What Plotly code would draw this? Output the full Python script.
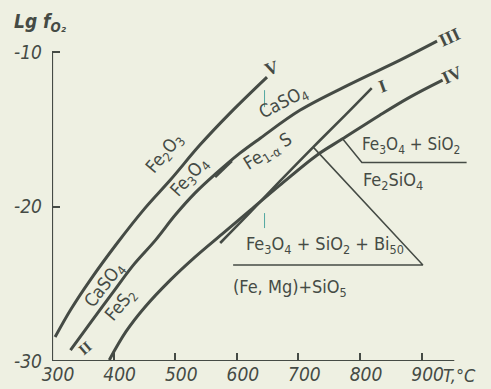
import plotly.graph_objects as go

# ---- data (T in deg C, lg fO2) ----
# curve V (Fe2O3 / Fe3O4 boundary)
T_V = [305, 330, 362, 406, 451, 492, 540, 589, 649]
LG_V = [-28.45, -26.70, -24.76, -22.36, -20.10, -18.28, -16.02, -13.95, -11.62]
# curve III
T_III = [330, 362, 398, 432, 468, 500, 532, 565, 605, 638, 703, 784, 865, 925]
LG_III = [-29.29, -27.54, -25.60, -23.79, -22.17, -20.55, -19.13, -17.90, -16.54, -15.57, -13.75, -12.07, -10.52, -9.29]
# curve II -> IV (FeS2 / Fe1-aS then IV)
T_IV = [393, 420, 451, 492, 532, 576, 622, 670, 730, 771, 832, 881, 934]
LG_IV = [-29.93, -28.10, -26.50, -24.76, -23.27, -21.78, -20.23, -18.61, -16.67, -15.63, -14.08, -12.91, -11.81]
# curve I
T_I = [573, 622, 670, 724, 776, 819]
LG_I = [-22.36, -20.36, -18.35, -16.15, -14.08, -12.33]
# short branch stroke on curve III
T_BR = [565, 592]
LG_BR = [-18.10, -17.05]
# Fe3O4+SiO2+Bi50 / (Fe,Mg)+SiO5 triangle
T_TRI = [724, 902, 594]
LG_TRI = [-16.15, -23.79, -23.79]
# Fe3O4+SiO2 / Fe2SiO4 boundary
T_QF = [771, 803, 973]
LG_QF = [-15.57, -17.15, -17.15]

X_TICKS = [300, 400, 500, 600, 700, 800, 900]
Y_TICKS = [-10, -20, -30]

INK = "#454b45"
BG = "#eef0e2"
FONT = "DejaVu Sans Condensed, DejaVu Sans, sans-serif"
ROMAN = "Liberation Serif, DejaVu Serif, serif"

fig = go.Figure()

def curve(tx, ty, w):
    fig.add_trace(go.Scatter(x=tx, y=ty, mode="lines",
                             line=dict(color=INK, width=w, shape="spline", smoothing=1.0),
                             hoverinfo="skip", showlegend=False))

curve(T_V, LG_V, 3)
curve(T_III, LG_III, 3)
curve(T_IV, LG_IV, 3)
curve(T_I, LG_I, 2.6)
curve(T_BR, LG_BR, 2.4)
fig.add_trace(go.Scatter(x=T_TRI, y=LG_TRI, mode="lines", line=dict(color=INK, width=1.5),
                         hoverinfo="skip", showlegend=False))
fig.add_trace(go.Scatter(x=T_QF, y=LG_QF, mode="lines", line=dict(color=INK, width=1.5),
                         hoverinfo="skip", showlegend=False))

# axes lines
fig.add_shape(type="line", x0=300, x1=300, y0=-30, y1=-10, line=dict(color=INK, width=2.2))
fig.add_shape(type="line", x0=300, x1=953, y0=-30, y1=-30, line=dict(color=INK, width=2.2))
# scan marks
for y0, y1 in [(-20.42, -21.39), (-12.46, -13.56)]:
    fig.add_shape(type="line", x0=645, x1=645, y0=y0, y1=y1, line=dict(color="#52a8a2", width=1))

def lab(x, y, text, ang=0, size=18, fam=FONT):
    fig.add_annotation(x=x, y=y, text=text, textangle=ang, showarrow=False,
                       font=dict(family=fam, size=size, color=INK), xref="x", yref="y")

lab(484, -16.54, "Fe<sub>2</sub>O<sub>3</sub>", -50)
lab(524, -18.09, "Fe<sub>3</sub>O<sub>4</sub>", -48)
lab(675, -13.30, "CaSO<sub>4</sub>", -27)
lab(651, -16.47, "Fe<sub>1-α</sub> S", -32)
lab(883, -16.02, "Fe<sub>3</sub>O<sub>4</sub> + SiO<sub>2</sub>", 0, 17)
lab(853, -18.35, "Fe<sub>2</sub>SiO<sub>4</sub>", 0)
lab(743, -22.49, "Fe<sub>3</sub>O<sub>4</sub> + SiO<sub>2</sub> + Bi<sub>50</sub>", 0)
lab(686, -25.27, "(Fe, Mg)+SiO<sub>5</sub>", 0)
lab(386, -25.08, "CaSO<sub>4</sub>", -52)
lab(412, -26.37, "FeS<sub>2</sub>", -50)
lab(657, -11.04, "<b>V</b>", -20, 18, ROMAN)
lab(946, -9.03, "<b>III</b>", -25, 18, ROMAN)
lab(837, -12.20, "<b>I</b>", -20, 18, ROMAN)
lab(949, -11.49, "<b>IV</b>", -25, 18, ROMAN)
lab(354, -29.16, "<b>II</b>", -40, 15, ROMAN)

fig.add_annotation(x=-0.028, y=1.021, xref="paper", yref="paper", xanchor="center", yanchor="middle",
                   text="<b><i>Lg f<sub>O₂</sub></i></b>",
                   showarrow=False, font=dict(family=FONT, size=19, color=INK))
fig.add_annotation(x=0.966, y=-0.045, xref="paper", yref="paper", xanchor="center", yanchor="middle",
                   text="<i>T,°C</i>", showarrow=False,
                   font=dict(family=FONT, size=18, color=INK))

axfont = dict(family=FONT, size=19, color=INK, style="italic")
fig.update_layout(
    width=491, height=389,
    margin=dict(l=52, r=17, t=29, b=28, autoexpand=False),
    paper_bgcolor=BG, plot_bgcolor=BG,
    xaxis=dict(range=[300, 985], tickvals=X_TICKS, ticktext=[str(v) for v in X_TICKS],
               ticks="inside", ticklen=8, tickwidth=1.5, tickcolor=INK, showgrid=False, zeroline=False,
               showline=False, automargin=False, tickfont=axfont, ticklabelshift=6, ticklabelstandoff=0),
    yaxis=dict(range=[-30, -8.5], tickvals=Y_TICKS, ticktext=[str(v) for v in Y_TICKS],
               ticks="inside", ticklen=8, tickwidth=1.5, tickcolor=INK, showgrid=False, zeroline=False,
               showline=False, automargin=False, tickfont=axfont, ticklabelstandoff=9),
)

fig.write_html(
    "out.html",
    config={"displayModeBar": False},
    post_script="document.body.style.margin='0';document.body.style.padding='0';"
                "document.body.style.background='" + BG + "';"
                "document.documentElement.style.background='" + BG + "';",
)
